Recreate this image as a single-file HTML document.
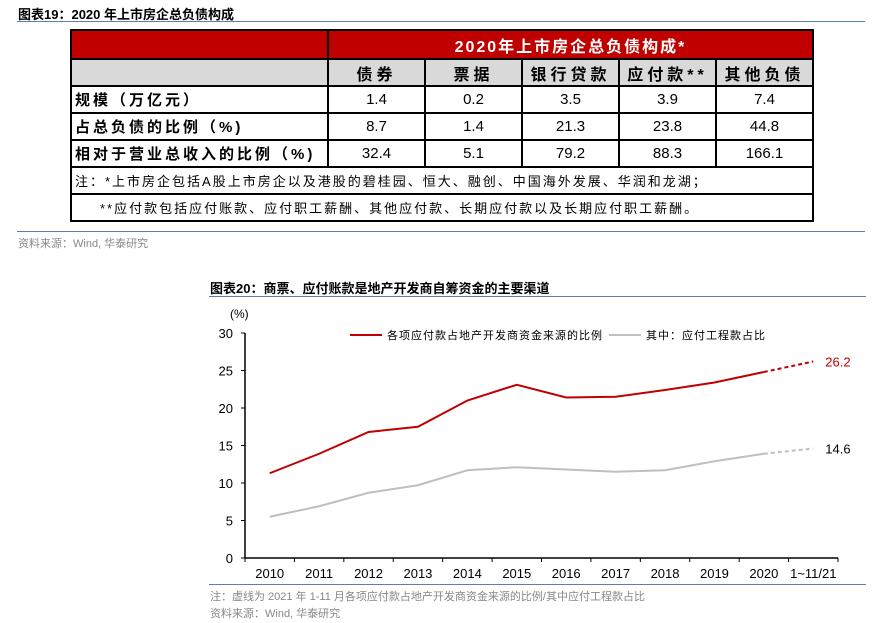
<!DOCTYPE html>
<html><head><meta charset="utf-8">
<style>
body{margin:0;width:883px;height:623px;background:#fff;position:relative;overflow:hidden;font-family:"Liberation Sans","Noto Sans CJK SC",sans-serif;}
.a{position:absolute;}
.t{position:absolute;white-space:nowrap;}
table{border-collapse:collapse;position:absolute;left:70px;top:29px;width:744px;font-size:15px;}
td{border:2px solid #000;padding:0;height:25px;text-align:center;}
td.l{text-align:left;font-weight:bold;padding-left:3px;letter-spacing:3px}
</style></head><body>
<div class="t" style="left:18px;top:4px;font-size:13px;font-weight:bold;">图表19：2020 年上市房企总负债构成</div>
<div class="a" style="left:17px;top:21px;width:848px;height:1px;background:#5b7fb0"></div>
<table>
<colgroup><col style="width:257px"><col style="width:97px"><col style="width:97px"><col style="width:97px"><col style="width:97px"><col style="width:97px"></colgroup>
<tr style="background:#c00000;color:#fff;font-weight:bold;height:29px"><td></td><td colspan="5" style="font-size:16px;letter-spacing:2px">2020年上市房企总负债构成*</td></tr>
<tr style="background:#d9d9d9;font-weight:bold;height:27px;font-size:16px;letter-spacing:4px"><td></td><td>债券</td><td>票据</td><td>银行贷款</td><td>应付款**</td><td>其他负债</td></tr>
<tr><td class="l">规模（万亿元）</td><td>1.4</td><td>0.2</td><td>3.5</td><td>3.9</td><td>7.4</td></tr>
<tr style="height:27px"><td class="l">占总负债的比例（%)</td><td>8.7</td><td>1.4</td><td>21.3</td><td>23.8</td><td>44.8</td></tr>
<tr style="height:26px"><td class="l">相对于营业总收入的比例（%)</td><td>32.4</td><td>5.1</td><td>79.2</td><td>88.3</td><td>166.1</td></tr>
<tr style="height:26px"><td colspan="6" style="text-align:left;font-size:13px;padding-left:3px;letter-spacing:2px">注：*上市房企包括A股上市房企以及港股的碧桂园、恒大、融创、中国海外发展、华润和龙湖；</td></tr>
<tr style="height:26px"><td colspan="6" style="text-align:left;font-size:13px;padding-left:28px;letter-spacing:2px">**应付款包括应付账款、应付职工薪酬、其他应付款、长期应付款以及长期应付职工薪酬。</td></tr>
</table>
<div class="a" style="left:17px;top:231px;width:848px;height:1px;background:#5b7fb0"></div>
<div class="t" style="left:18px;top:235px;font-size:11px;color:#888">资料来源：Wind, 华泰研究</div>

<div class="t" style="left:210px;top:278px;font-size:13px;font-weight:bold;">图表20：商票、应付账款是地产开发商自筹资金的主要渠道</div>
<div class="a" style="left:209px;top:296px;width:657px;height:1px;background:#5b7fb0"></div>
<svg class="a" style="left:0;top:0" width="883" height="623" id="chart"></svg>
<div class="a" style="left:209px;top:584px;width:657px;height:1px;background:#5b7fb0"></div>
<div class="t" style="left:210px;top:588px;font-size:11px;color:#888">注：虚线为 2021 年 1-11 月各项应付款占地产开发商资金来源的比例/其中应付工程款占比</div>
<div class="t" style="left:210px;top:605px;font-size:11px;color:#888">资料来源：Wind, 华泰研究</div>
<script>
const categories=["2010","2011","2012","2013","2014","2015","2016","2017","2018","2019","2020","1~11/21"];
const totalPayables=[11.3,13.9,16.8,17.5,21.0,23.1,21.4,21.5,22.4,23.4,24.8,26.2];
const engineeringPayables=[5.5,6.9,8.7,9.7,11.7,12.1,11.8,11.5,11.7,12.9,13.9,14.6];
const yTicks=[0,5,10,15,20,25,30];
const svg=document.getElementById('chart');
const NS='http://www.w3.org/2000/svg';
const X0=245,X1=838,Y0=558,Y1=333,YMAX=30;
const step=(X1-X0)/categories.length;
const xs=i=>X0+step*(i+0.5);
const ys=v=>Y0-(v/YMAX)*(Y0-Y1);
function mk(tag,attrs,text){const e=document.createElementNS(NS,tag);for(const k in attrs)e.setAttribute(k,attrs[k]);if(text!==undefined)e.textContent=text;svg.appendChild(e);return e;}
let e=mk('line',{x1:X0,y1:Y1,x2:X0,y2:Y0,stroke:'#000','stroke-width':1.5});


e=mk('line',{x1:X0,y1:Y0,x2:X1,y2:Y0,stroke:'#000','stroke-width':1.5});


yTicks.forEach(v=>{
 mk('line',{x1:X0-4,y1:ys(v),x2:X0,y2:ys(v),stroke:'#000'});
 const t=mk('text',{x:X0-12,y:ys(v)+5,'text-anchor':'end','font-size':13,fill:'#000'},String(v));
 
 
});
for(let i=0;i<=categories.length;i++){mk('line',{x1:X0+step*i,y1:Y0,x2:X0+step*i,y2:Y0+4,stroke:'#000'});}
categories.forEach((c,i)=>{
 const t=mk('text',{x:xs(i),y:Y0+20,'text-anchor':'middle','font-size':13,fill:'#000'},c);
 
 
});
e=mk('text',{x:230,y:318,'font-size':12,fill:'#000'},'(%)');


function series(vals,color,name){
 const n=vals.length;
 const solid=vals.slice(0,n-1).map((v,i)=>xs(i)+','+ys(v)).join(' ');
 let p=mk('polyline',{points:solid,fill:'none',stroke:color,'stroke-width':2});
 
 
 p=mk('line',{x1:xs(n-2),y1:ys(vals[n-2]),x2:xs(n-1),y2:ys(vals[n-1]),stroke:color,'stroke-width':2,'stroke-dasharray':'4,3'});
 
 
 const t=mk('text',{x:xs(n-1)+12,y:ys(vals[n-1])+5,'font-size':13,fill:color==='#c00000'?'#c00000':'#000'},vals[n-1].toFixed(1));
 
 
}
series(engineeringPayables,'#bfbfbf','engineering-payables');
series(totalPayables,'#c00000','total-payables');
e=mk('line',{x1:350,y1:335,x2:382,y2:335,stroke:'#c00000','stroke-width':2});


e=mk('text',{x:387,y:339,'font-size':11,fill:'#000','letter-spacing':1},'各项应付款占地产开发商资金来源的比例');


e=mk('line',{x1:609,y1:335,x2:641,y2:335,stroke:'#bfbfbf','stroke-width':2});


e=mk('text',{x:646,y:339,'font-size':11,fill:'#000','letter-spacing':1},'其中：应付工程款占比');


</script>
</body></html>
